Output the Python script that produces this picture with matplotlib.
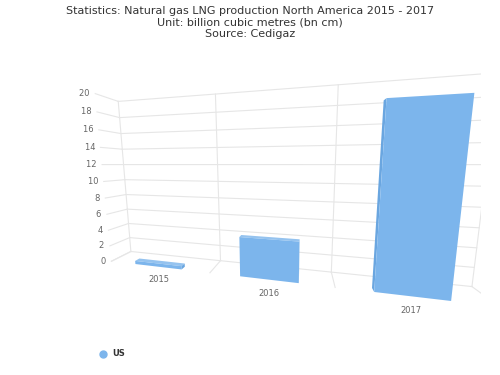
import matplotlib
matplotlib.use("Agg")
import matplotlib.pyplot as plt
from matplotlib.lines import Line2D
from mpl_toolkits.mplot3d import proj3d
import numpy as np

categories = ["2015", "2016", "2017"]
values = [0.4, 4.4, 17.6]
series_name = "US"
yticks = list(range(0, 21, 2))

title = ("Statistics: Natural gas LNG production North America 2015 - 2017\n"
         "Unit: billion cubic metres (bn cm)\nSource: Cedigaz")

BAR = "#7cb5ec"
TOP = "#95c3ef"
SIDE = "#6aa6e0"
GRID = "#e6e6e6"

fig = plt.figure(figsize=(5, 3.75), dpi=100)
fig.text(0.5, 0.985, title, ha="center", va="top", fontsize=8.0, color="#333333",
         linespacing=1.2)

cx, cy, s = 0.53, 0.495, 1.15
ax = fig.add_axes([cx - s / 2, cy - s / 2, s, s], projection="3d",
                  computed_zorder=False)
ax.patch.set_alpha(0)
ax.set_proj_type("persp", focal_length=0.078)
ax.view_init(elev=6, azim=-79.5)
ax.set_axis_off()

n = len(categories)
xmin, xmax = -0.5, n - 0.5
ymin, ymax = 0.0, 1.0
zmin, zmax = 0, 20
ax.set_xlim(xmin, xmax)
ax.set_ylim(ymin, ymax)
ax.set_zlim(zmin, zmax)
ax.set_box_aspect((400, 26, 200), zoom=0.95)

# walls and floor grid
for t in yticks:
    ax.plot([xmin, xmax], [ymax, ymax], [t, t], color=GRID, lw=0.8, zorder=1)
    ax.plot([xmin, xmin], [ymin, ymax], [t, t], color=GRID, lw=0.8, zorder=1)
bounds = np.arange(n + 1) - 0.5
for b in bounds:
    ax.plot([b, b], [ymax, ymax], [zmin, zmax], color=GRID, lw=0.8, zorder=1)
    ax.plot([b, b], [ymin, ymax], [zmin, zmin], color=GRID, lw=0.8, zorder=1)

# bars: show only faces turned toward the camera
w = 0.47
d = 0.22
xs = np.arange(n) - w / 2
ys = np.full(n, 0.0)
M0 = ax.get_proj()
unit = np.array([
    ((0, 0, 0), (0, 1, 0), (1, 1, 0), (1, 0, 0)),   # -z
    ((0, 0, 1), (1, 0, 1), (1, 1, 1), (0, 1, 1)),   # +z
    ((0, 0, 0), (1, 0, 0), (1, 0, 1), (0, 0, 1)),   # -y
    ((0, 1, 0), (0, 1, 1), (1, 1, 1), (1, 1, 0)),   # +y
    ((0, 0, 0), (0, 0, 1), (0, 1, 1), (0, 1, 0)),   # -x
    ((1, 0, 0), (1, 1, 0), (1, 1, 1), (1, 0, 1)),   # +x
], dtype=float)
face_cols = [SIDE, TOP, BAR, BAR, SIDE, SIDE]
cols = []
for i in range(n):
    size = np.array([w, d, values[i]])
    origin = np.array([xs[i], ys[i], 0.0])
    for f, fc in zip(unit, face_cols):
        pts = origin + f * size
        px, py, _ = proj3d.proj_transform(pts[:, 0], pts[:, 1], pts[:, 2], M0)
        area = 0.5 * np.sum(px * np.roll(py, -1) - np.roll(px, -1) * py)
        cols.append(fc if area > 0 else (1, 1, 1, 0))
ax.bar3d(xs, ys, np.zeros(n), w, d, values, color=cols, shade=False, zorder=2,
         edgecolor="none")

# labels placed as 2D text at projected 3D positions
fig.canvas.draw()
M = ax.get_proj()


def place(x, y, z, text, **kw):
    px, py, _ = proj3d.proj_transform(x, y, z, M)
    X, Y = ax.transData.transform((px, py))
    fig.text(X / fig.bbox.width, Y / fig.bbox.height, text, **kw)


for t in yticks:
    place(xmin, ymin, t, f"{t}  ", ha="right", va="center", fontsize=6,
          color="#666666")
for i, c in enumerate(categories):
    place(i, ymin, -1.0, c, ha="center", va="top", fontsize=6, color="#666666")

handle = Line2D([], [], marker="o", ls="none", color=BAR, markersize=5)
leg = fig.legend([handle], [series_name], loc="center left",
                 bbox_to_anchor=(0.175, 0.056), frameon=False, handletextpad=0.1,
                 prop={"size": 6, "weight": "bold"})
for t in leg.get_texts():
    t.set_color("#333333")

fig.savefig("out.png", dpi=100)
